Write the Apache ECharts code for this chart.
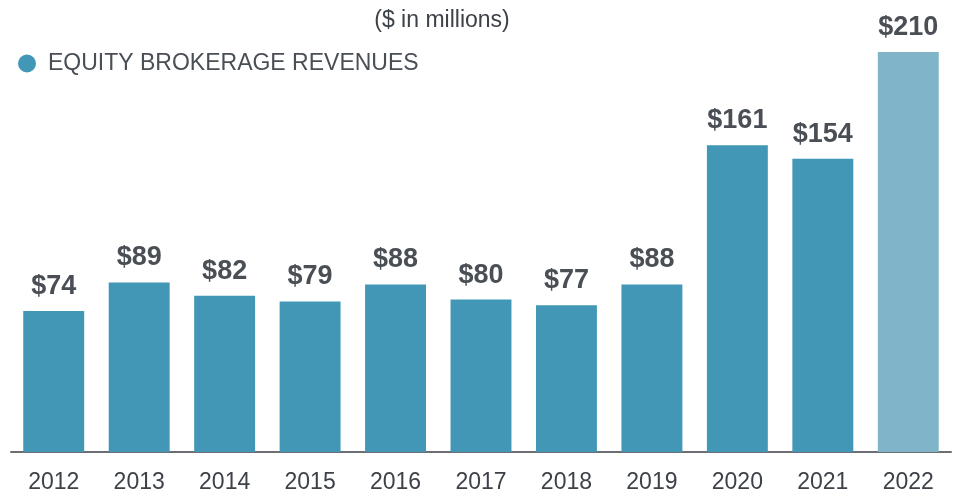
<!DOCTYPE html>
<html>
<head>
<meta charset="utf-8">
<script src="https://cdn.jsdelivr.net/npm/echarts@6/dist/echarts.min.js"></script>
<style>
  html, body { margin: 0; padding: 0; background: #fff; }
  #chart { width: 955px; height: 494px; }
</style>
</head>
<body>
<div id="chart"></div>
<script>
var years = ["2012", "2013", "2014", "2015", "2016", "2017", "2018", "2019", "2020", "2021", "2022"];
var revenues = [74, 89, 82, 79, 88, 80, 77, 88, 161, 154, 210];
var seriesName = "EQUITY BROKERAGE REVENUES";

var mainColor = "#4197b5";
var lastColor = "#7fb4c9";

var chart = echarts.init(document.getElementById("chart"));

var barData = revenues.map(function (v, i) {
  if (i === revenues.length - 1) {
    return { value: v, itemStyle: { color: lastColor } };
  }
  return v;
});

chart.setOption({
  animation: false,
  title: {
    text: "($ in millions)",
    left: 437,
    textAlign: "center",
    top: 4,
    textStyle: {
      fontFamily: "Liberation Sans",
      fontSize: 23,
      fontWeight: "normal",
      color: "#3d4148"
    }
  },
  legend: {
    left: 13,
    top: 47,
    icon: "circle",
    itemWidth: 18,
    itemHeight: 18,
    itemGap: 10,
    textStyle: {
      fontFamily: "Liberation Sans",
      fontSize: 23,
      color: "#4a4f55",
      padding: [0, 0, 0, 7]
    },
    data: [seriesName]
  },
  grid: {
    left: 11,
    right: 4,
    top: 52,
    bottom: 42,
    containLabel: false
  },
  xAxis: {
    type: "category",
    data: years,
    axisTick: { show: false },
    axisLine: { lineStyle: { color: "#6b6e72", width: 2 } },
    axisLabel: {
      margin: 19,
      fontFamily: "Liberation Sans",
      fontSize: 23,
      color: "#3d4148"
    }
  },
  yAxis: {
    type: "value",
    min: 0,
    max: 210,
    show: false,
    splitLine: { show: false }
  },
  series: [
    {
      name: seriesName,
      type: "bar",
      data: barData,
      barCategoryGap: "28.7%",
      itemStyle: { color: mainColor },
      label: {
        show: true,
        position: "top",
        distance: 11,
        formatter: "${c}",
        fontFamily: "Liberation Sans",
        fontSize: 27,
        fontWeight: "bold",
        color: "#4a4f55"
      }
    }
  ]
});
</script>
</body>
</html>
